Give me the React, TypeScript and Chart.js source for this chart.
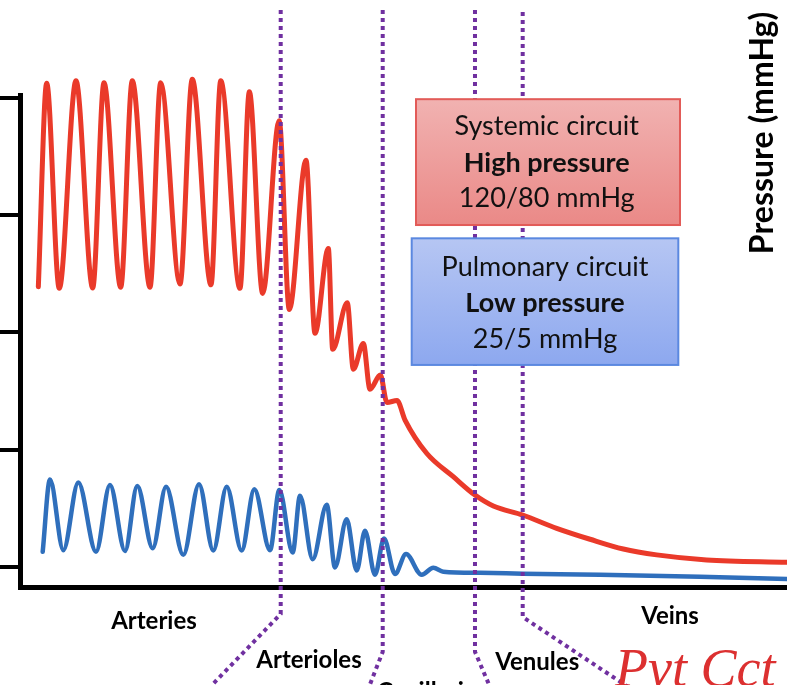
import { useEffect, useRef } from "react";
import { Chart, registerables } from "chart.js";

Chart.register(...registerables);

const W = 787;
const H = 685;

// x: position along the circulation (0-100), y: pressure (mmHg)
const systemicX = [2.39, 3.48, 5.12, 7.3, 9.48, 10.95, 13.13, 14.64, 16.95, 18.34, 20.86, 22.46, 24.9, 26.17, 28.68, 29.9, 31.64, 33.79, 35.11, 37.29, 38.46, 40.2, 40.77, 42.67, 43.46, 44.76, 45.63, 46.98, 47.85, 49.15, 50.2, 53.02, 56.49, 59.32, 61.71, 65.54, 69.97, 74.32, 78.66, 83.01, 89.53, 99.96];
const systemicY = [71.7, 123.8, 71.3, 124.4, 71.4, 123.9, 71.6, 124.4, 71.6, 123.9, 72.4, 124.8, 72.2, 124.4, 71.3, 121.6, 70.0, 114.2, 65.9, 104.1, 59.8, 81.5, 55.7, 67.6, 50.6, 57.2, 45.5, 49.1, 42.1, 42.6, 37.6, 29.1, 23.1, 18.4, 15.6, 13.3, 9.9, 7.1, 4.6, 3.1, 1.8, 1.2];

const pulmonaryX = [2.96, 3.91, 5.65, 7.6, 9.91, 11.73, 13.69, 15.29, 17.3, 19.04, 21.29, 23.34, 25.2, 26.95, 28.9, 30.55, 32.6, 33.81, 35.55, 36.51, 38.16, 39.99, 41.07, 42.59, 43.9, 44.98, 46.28, 47.46, 48.89, 50.33, 52.37, 53.89, 55.19, 59.97, 65.58, 75.62, 88.66, 100];
const pulmonaryY = [3.9, 22.4, 4.3, 21.6, 3.9, 21.0, 4.1, 20.7, 4.8, 20.5, 3.1, 21.2, 4.2, 20.5, 4.2, 19.9, 4.3, 19.7, 3.7, 18.2, 2.0, 15.9, -0.1, 12.2, -0.9, 9.3, -2.0, 7.3, -1.8, 3.3, -2.0, -0.2, -1.2, -1.5, -1.7, -2.0, -2.5, -3.1];

const yTicks = [0, 30, 60, 90, 120];

// vessel segment boundaries (dotted purple lines)
const dividerX = [33.99, 47.29, 59.32, 65.54];
const dividerTopY = [142.5, 142.5, 142.5, 142.0];
const dividerBendY = [-12.0, -21.7, -21.7, -12.8];
const dividerEndX = [25.03, 45.5, 61.28, 79.66];
const dividerEndY = [-30.2, -30.7, -30.7, -31.2];

const vesselLabels = ["Arteries", "Arterioles", "Capillaries", "Venules", "Veins"];
const vesselLabelX = [17.47, 37.68, 53.72, 67.43, 84.75];
const vesselLabelY = [-13.8, -23.8, -32.0, -24.3, -12.5];

const systemicBoxLines = ["Systemic circuit", "High pressure", "120/80 mmHg"];
const pulmonaryBoxLines = ["Pulmonary circuit", "Low pressure", "25/5 mmHg"];

const yTitle = "Pressure (mmHg)";
const note = "Pvt Cct";

const FONT = "Lato";

function drawBox(
  ctx: CanvasRenderingContext2D,
  px: (v: number) => number,
  py: (v: number) => number,
  x0: number, x1: number, y0: number, y1: number,
  top: string, bottom: string, border: string,
  lines: string[], cx: number, lineY: number[]
) {
  const L = px(x0), R = px(x1), T = py(y0), B = py(y1);
  const g = ctx.createLinearGradient(0, T, 0, B);
  g.addColorStop(0, top);
  g.addColorStop(1, bottom);
  ctx.fillStyle = g;
  ctx.fillRect(L, T, R - L, B - T);
  ctx.strokeStyle = border;
  ctx.lineWidth = 2;
  ctx.setLineDash([]);
  ctx.strokeRect(L, T, R - L, B - T);
  ctx.fillStyle = "#111";
  ctx.textAlign = "center";
  ctx.textBaseline = "middle";
  lines.forEach((t, i) => {
    ctx.font = (i === 1 ? "bold " : "") + `27px ${FONT}`;
    ctx.fillText(t, px(cx), py(lineY[i]));
  });
}

const overlay = {
  id: "overlay",
  afterDatasetsDraw(chart: any) {
    const { ctx } = chart;
    const xs = chart.scales.x;
    const ys = chart.scales.y;
    const px = (v: number) => xs.getPixelForValue(v);
    const py = (v: number) => ys.getPixelForValue(v);
    ctx.save();
    // dotted dividers
    ctx.strokeStyle = "#7030A0";
    ctx.lineWidth = 4;
    ctx.lineCap = "butt";
    ctx.setLineDash([4, 4]);
    dividerX.forEach((d, i) => {
      ctx.beginPath();
      ctx.moveTo(px(d), py(dividerTopY[i]));
      ctx.lineTo(px(d), py(dividerBendY[i]));
      ctx.lineTo(px(dividerEndX[i]), py(dividerEndY[i]));
      ctx.stroke();
    });
    ctx.setLineDash([]);
    // boxes
    drawBox(ctx, px, py, 51.63, 86.05, 119.7, 87.5, "#F1B2B1", "#EA8987", "#E25B58",
      systemicBoxLines, 68.67, [112.7, 103.4, 94.3]);
    drawBox(ctx, px, py, 51.07, 85.83, 84.1, 51.7, "#B6C6F3", "#8DA8EF", "#5B88E0",
      pulmonaryBoxLines, 68.45, [76.8, 67.5, 58.3]);
    // vessel labels
    ctx.fillStyle = "#000";
    ctx.textAlign = "center";
    ctx.textBaseline = "middle";
    ctx.font = `bold 24px ${FONT}`;
    vesselLabels.forEach((t, i) => {
      ctx.fillText(t, px(vesselLabelX[i]), py(vesselLabelY[i]));
    });
    // y title (rotated)
    ctx.save();
    ctx.translate(px(96.87), py(111.05));
    ctx.rotate(-Math.PI / 2);
    ctx.font = `bold 32px ${FONT}`;
    ctx.fillStyle = "#000";
    ctx.fillText(yTitle, 0, 0);
    ctx.restore();
    // handwritten note
    ctx.font = `italic 54px "Liberation Serif"`;
    ctx.fillStyle = "#DC3030";
    ctx.textAlign = "left";
    ctx.textBaseline = "alphabetic";
    ctx.fillText(note, px(77.58), py(-30.5));
    ctx.restore();
  },
};

export default function App() {
  const ref = useRef<HTMLCanvasElement>(null);
  useEffect(() => {
    const chart = new Chart(ref.current as HTMLCanvasElement, {
      type: "line",
      data: {
        datasets: [
          {
            label: "Systemic",
            data: systemicX.map((x, i) => ({ x, y: systemicY[i] })),
            borderColor: "#EA3A2A",
            borderWidth: 5,
            pointRadius: 0,
            cubicInterpolationMode: "monotone",
            fill: false,
            clip: false as any,
            borderCapStyle: "round",
            borderJoinStyle: "round",
          },
          {
            label: "Pulmonary",
            data: pulmonaryX.map((x, i) => ({ x, y: pulmonaryY[i] })),
            borderColor: "#2F6FBC",
            borderWidth: 4.5,
            pointRadius: 0,
            cubicInterpolationMode: "monotone",
            fill: false,
            clip: false as any,
            borderCapStyle: "round",
            borderJoinStyle: "round",
          },
        ],
      },
      options: {
        responsive: false,
        animation: false,
        events: [],
        layout: { padding: { top: 95, bottom: 98, left: 0, right: 0 } },
        plugins: { legend: { display: false }, tooltip: { enabled: false } },
        scales: {
          x: {
            type: "linear",
            min: 0,
            max: 100,
            ticks: { display: false },
            grid: { display: false, drawTicks: false },
            border: { display: true, color: "#000", width: 5 },
          },
          y: {
            type: "linear",
            min: -5.12,
            max: 120.77,
            afterBuildTicks: (s: any) => {
              s.ticks = yTicks.map((v) => ({ value: v }));
            },
            ticks: { display: false },
            grid: {
              drawOnChartArea: false,
              drawTicks: true,
              tickLength: 20,
              lineWidth: 4,
              color: "#000",
            },
            border: { display: true, color: "#000", width: 5 },
          },
        },
      },
      plugins: [overlay],
    } as any);
    return () => chart.destroy();
  }, []);
  return (
    <div style={{ position: "fixed", left: 0, top: 0, width: W, height: H, background: "#fff" }}>
      <canvas ref={ref} width={W} height={H} style={{ display: "block", width: W, height: H }} />
    </div>
  );
}
